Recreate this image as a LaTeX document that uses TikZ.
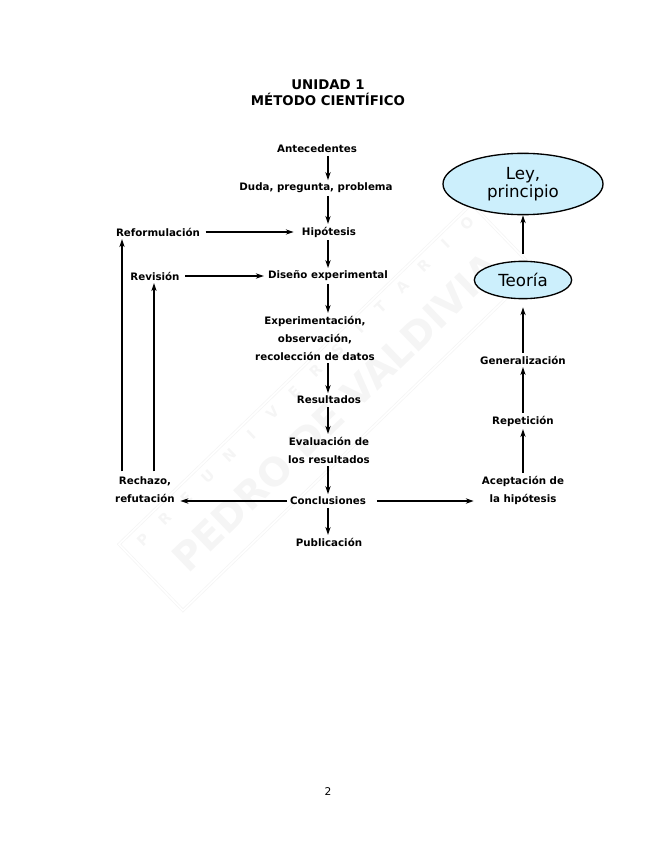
\documentclass[tikz,border=0pt]{standalone}
\usepackage{fontspec}
\setmainfont{DejaVu Sans}
\usetikzlibrary{positioning,shapes.geometric,arrows.meta,calc}

\tikzset{
  paso/.style={font=\bfseries\fontsize{7.7}{13.5}\selectfont, align=center, inner sep=2pt},
  flecha/.style={-{Stealth[length=6pt,width=4pt]}, line width=0.9pt},
  globo/.style={ellipse, draw, line width=1pt, fill=cyan!20, align=center, inner sep=0pt,
    font=\fontsize{12.5}{14}\selectfont},
  marca/.style={text=black!4, font=\bfseries}
}

\begin{document}
\begin{tikzpicture}[x=0.75pt,y=-0.75pt]
    \useasboundingbox (0,0) rectangle (655,848);  % tamaño de la página

    % marca de agua
    \draw[black!4, line width=0.6pt, double, double distance=1.2pt, rotate around={44:(330,410)}]
      (85,360) rectangle (575,452);
    \node[marca, rotate=44, font=\bfseries\fontsize{29}{29}\selectfont] (pdv) at (336,412) {PEDRO DE VALDIVIA};
    \foreach \l [count=\i from 0] in {P,R,E,U,N,I,V,E,R,S,I,T,A,R,I,O}
      \node[marca, rotate=44, font=\bfseries\fontsize{11}{11}\selectfont] (pu\i) at ($(143,540)!\i/15!(467,223)$) {\l};

    % título
    \node[font=\bfseries\fontsize{10}{12}\selectfont, align=center] (tit) at (328,93) {UNIDAD 1\\MÉTODO CIENTÍFICO};

    % columna central
    \coordinate (col) at (328,0);
    \node[paso] (ante) at (317,149) {Antecedentes};
    \node[paso] (duda) at (316,188) {Duda, pregunta, problema};
    \node[paso] (hipo) at (329,232) {Hipótesis};
    \node[paso] (dise) at (328,276) {Diseño experimental};
    \node[paso] (expe) at (315,338) {Experimentación,\\observación,\\recolección de datos};
    \node[paso] (resu) at (329,400) {Resultados};
    \node[paso] (eval) at (329,450) {Evaluación de\\los resultados};
    \node[paso] (conc) at (328,501) {Conclusiones};
    \node[paso] (publ) at (329,542) {Publicación};

    % columna izquierda
    \node[paso] (refo) at (158,232) {Reformulación};
    \node[paso] (revi) at (155,276) {Revisión};
    \node[paso] (rech) at (145,490) {Rechazo,\\refutación};
    \coordinate (c1) at (122,0);
    \coordinate (c2) at (154,0);

    % columna derecha
    \node[paso] (acep) at (523,490) {Aceptación de\\la hipótesis};
    \node[paso] (repe) at (523,421) {Repetición};
    \node[paso] (gene) at (523,360) {Generalización};
    \node[globo, minimum width=73pt, minimum height=28pt] (teor) at (523,280) {Teoría};
    \node[globo, minimum width=120pt, minimum height=46pt] (ley) at (523,184) {Ley,\\principio};

    % flechas centrales
    \draw[flecha] (ante.south -| col) -- (duda.north -| col);
    \draw[flecha] (duda.south -| col) -- (hipo.north -| col);
    \draw[flecha] (hipo.south -| col) -- (dise.north -| col);
    \draw[flecha] (dise.south -| col) -- (expe.north -| col);
    \draw[flecha] (expe.south -| col) -- (resu.north -| col);
    \draw[flecha] (resu.south -| col) -- (eval.north -| col);
    \draw[flecha] (eval.south -| col) -- (conc.north -| col);
    \draw[flecha] (conc.south -| col) -- (publ.north -| col);

    % flechas horizontales
    \draw[flecha] ([xshift=2pt]refo.east) -- ([xshift=-4pt]hipo.west);
    \draw[flecha] ([xshift=2pt]revi.east) -- ([xshift=-1pt]dise.west);
    \draw[flecha] (conc.west) -- ([xshift=2pt]conc -| rech.east);
    \draw[flecha] ([xshift=6pt]conc.east) -- ([xshift=-4pt]conc -| acep.west);

    % flechas de regreso
    \draw[flecha] ([yshift=2pt]rech.north -| c1) -- (refo.south -| c1);
    \draw[flecha] ([yshift=2pt]rech.north -| c2) -- (revi.south -| c2);

    % flechas derechas
    \draw[flecha] (acep.north) -- (repe.south);
    \draw[flecha] (repe.north) -- (gene.south);
    \draw[flecha] (gene.north) -- ([yshift=-6pt]teor.south);
    \draw[flecha] ([yshift=5pt]teor.north) -- (ley.south);

    % número de página
    \node[font=\fontsize{8}{10}\selectfont] (pag) at (328,792) {2};
\end{tikzpicture}
\end{document}
